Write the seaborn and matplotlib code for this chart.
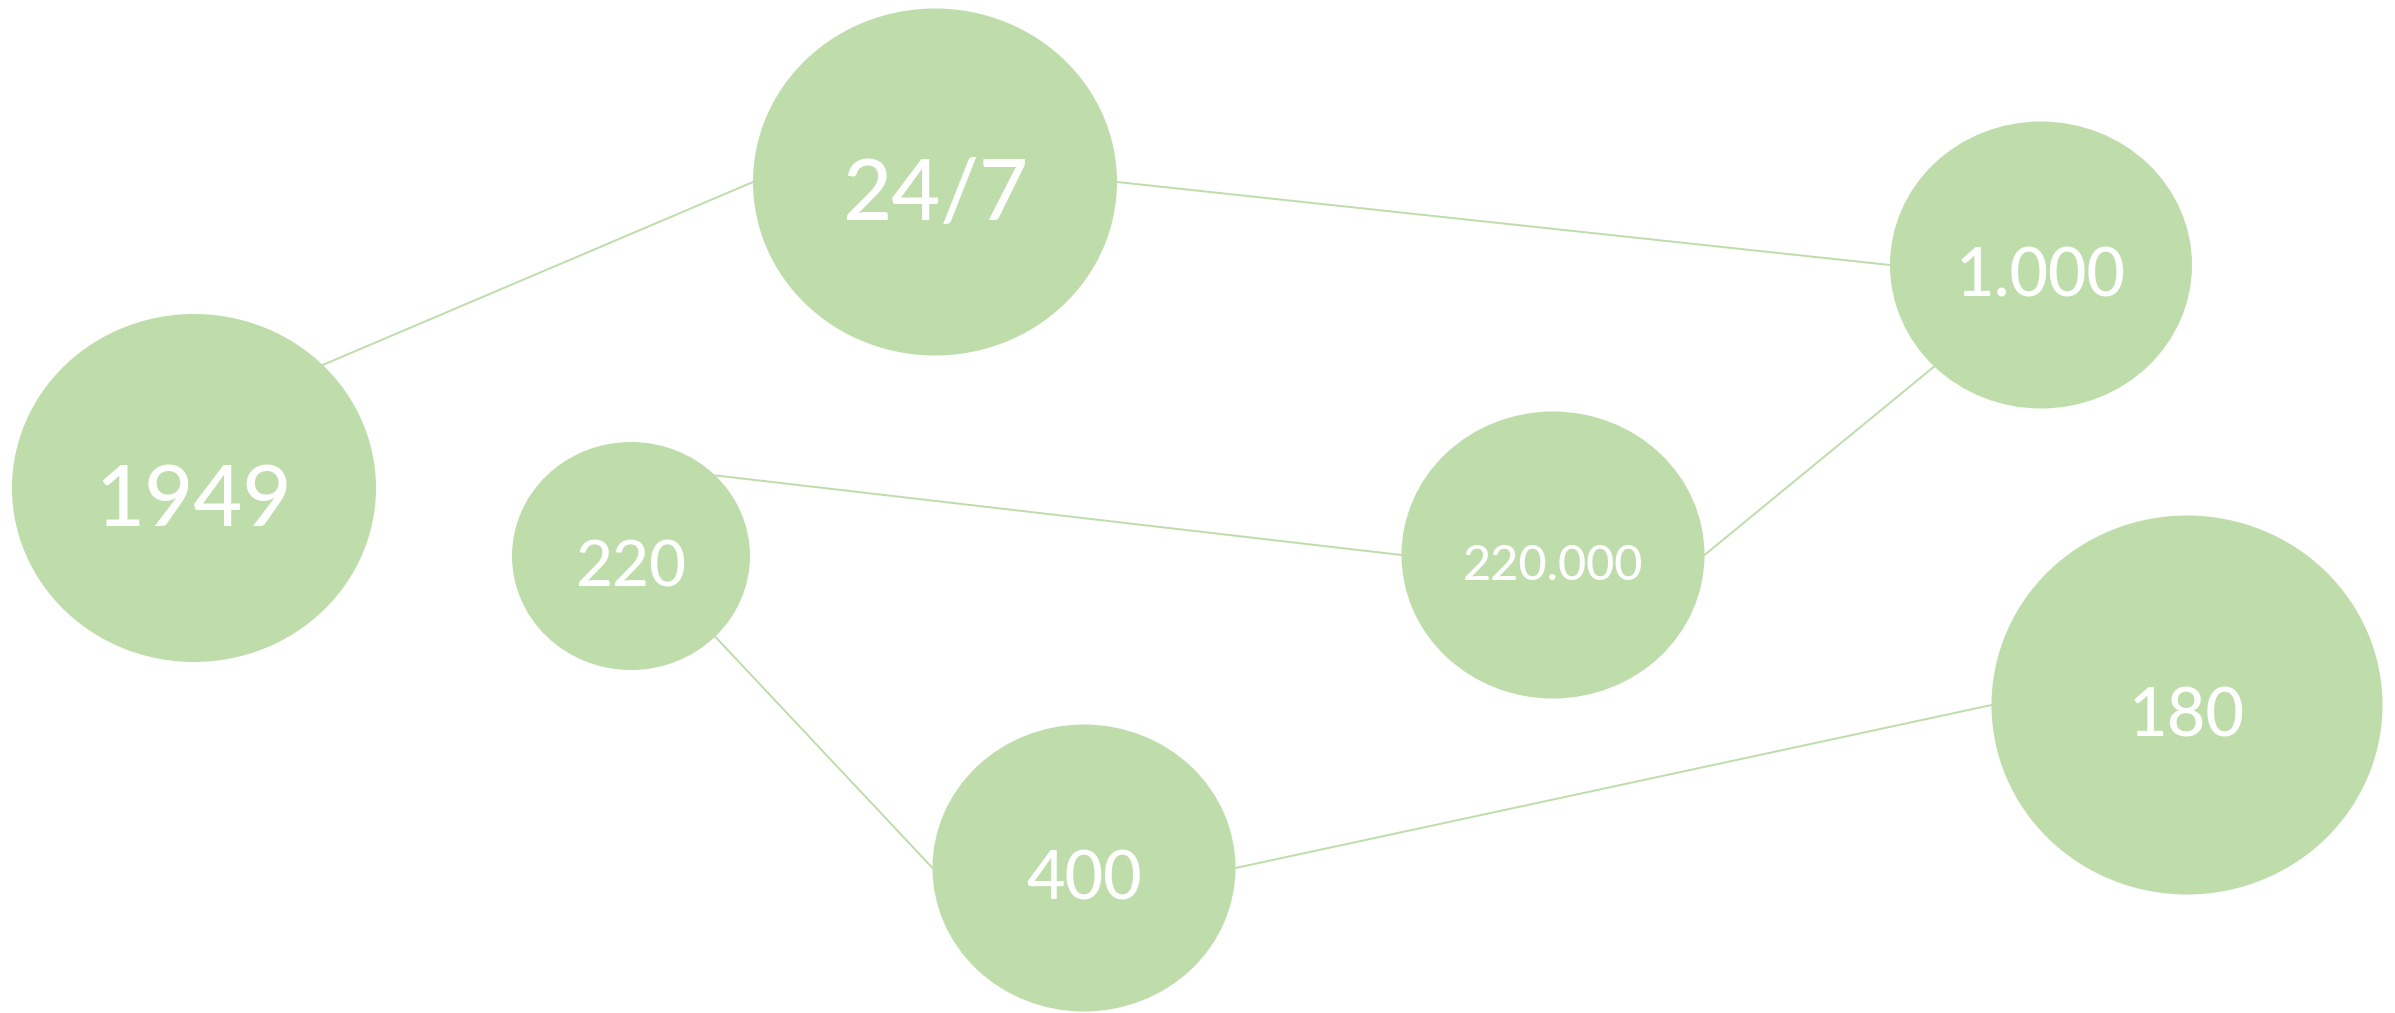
import numpy as np
import pandas as pd
import seaborn as sns
import matplotlib.pyplot as plt
from matplotlib.patches import Ellipse

# nodes of the diagram (pixel space of the original slide)
labels = ['1949', '24/7', '1.000', '220', '220.000', '180', '400']
node_x = [194, 935, 2041, 631, 1553, 2187, 1084]
node_y = [488, 182, 265, 556, 555, 705, 868]
node_w = [364, 364, 302, 238, 303, 391, 303]
node_h = [348, 347, 287, 228, 287, 379, 287]
font_pt = [61, 61, 48, 46, 35, 48, 48]

# connections: (from, angle on from, to, angle on to), angles in degrees
edges = [
    ('1949', 45, '24/7', 180),
    ('24/7', 0, '1.000', 180),
    ('1.000', 225, '220.000', 0),
    ('220', 45, '220.000', 180),
    ('220', -45, '400', 180),
    ('400', 0, '180', 180),
]

GREEN = '#BEDDAB'

sns.set_theme(style='white')
plt.rcParams['font.family'] = ['Lato', 'DejaVu Sans']

nodes = pd.DataFrame({'label': labels, 'x': node_x, 'y': node_y,
                      'w': node_w, 'h': node_h, 'size': font_pt}).set_index('label')


def anchor(name, deg):
    n = nodes.loc[name]
    a = np.radians(deg)
    return n.x + n.w / 2 * np.cos(a), n.y - n.h / 2 * np.sin(a)


rows = []
for i, (a, da, b, db) in enumerate(edges):
    for name, deg in ((a, da), (b, db)):
        px, py = anchor(name, deg)
        rows.append({'edge': i, 'x': px, 'y': py})
edge_df = pd.DataFrame(rows)

fig = plt.figure(figsize=(23.95, 10.13), dpi=100)
ax = fig.add_axes([0, 0, 1, 1])

sns.lineplot(data=edge_df, x='x', y='y', units='edge', estimator=None,
             sort=False, color=GREEN, linewidth=1.4, ax=ax, zorder=1)

for name, n in nodes.iterrows():
    ax.add_patch(Ellipse((n.x, n.y), n.w, n.h, facecolor=GREEN,
                         edgecolor='none', zorder=2))
    digit_h = 0.72 * n['size'] * 100 / 72
    ax.text(n.x, n.y + 7 + digit_h / 2, name, color='white',
            fontsize=n['size'], fontweight='medium',
            ha='center', va='baseline', zorder=3)

ax.set_xlim(0, 2395)
ax.set_ylim(1013, 0)
ax.axis('off')

fig.savefig('out.png', dpi=100, facecolor='white')
plt.close()
